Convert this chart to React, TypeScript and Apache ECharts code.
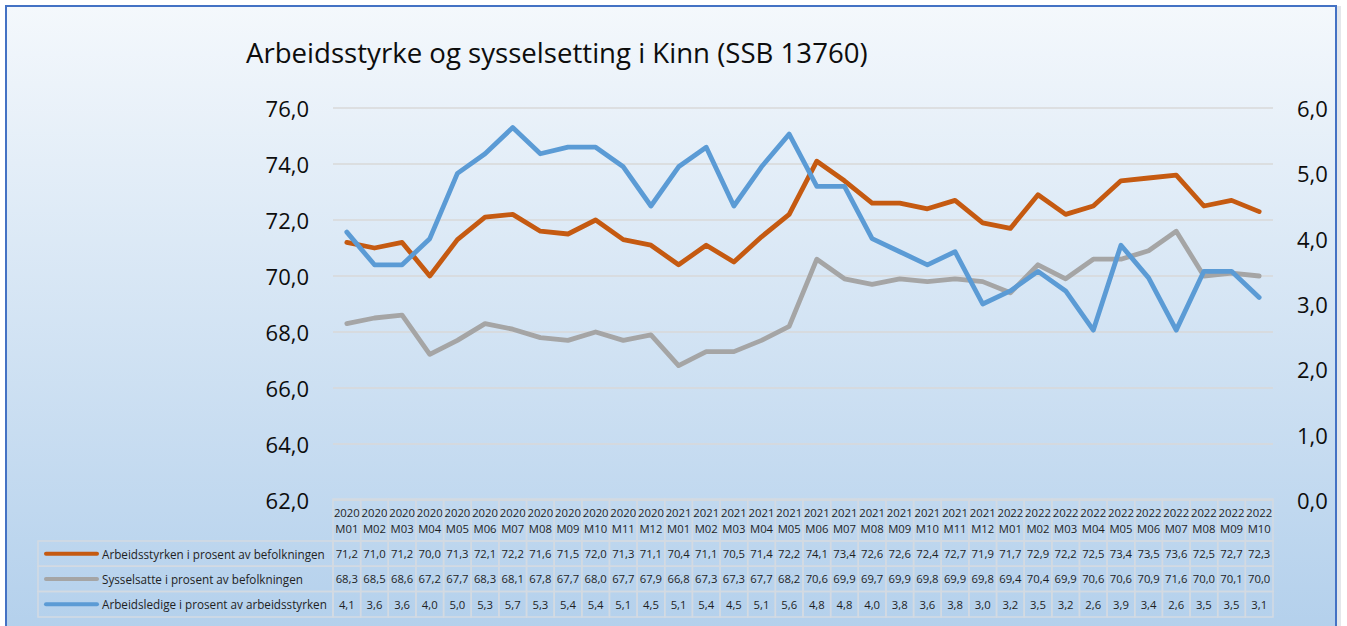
import React, { useEffect, useRef } from "react";
import * as echarts from "echarts";

const titleText = "Arbeidsstyrke og sysselsetting i Kinn (SSB 13760)";

const categories = [
  "2020\nM01", "2020\nM02", "2020\nM03", "2020\nM04", "2020\nM05", "2020\nM06",
  "2020\nM07", "2020\nM08", "2020\nM09", "2020\nM10", "2020\nM11", "2020\nM12",
  "2021\nM01", "2021\nM02", "2021\nM03", "2021\nM04", "2021\nM05", "2021\nM06",
  "2021\nM07", "2021\nM08", "2021\nM09", "2021\nM10", "2021\nM11", "2021\nM12",
  "2022\nM01", "2022\nM02", "2022\nM03", "2022\nM04", "2022\nM05", "2022\nM06",
  "2022\nM07", "2022\nM08", "2022\nM09", "2022\nM10",
];

const arbeidsstyrken = [
  71.2, 71.0, 71.2, 70.0, 71.3, 72.1, 72.2, 71.6, 71.5, 72.0, 71.3, 71.1,
  70.4, 71.1, 70.5, 71.4, 72.2, 74.1, 73.4, 72.6, 72.6, 72.4, 72.7, 71.9,
  71.7, 72.9, 72.2, 72.5, 73.4, 73.5, 73.6, 72.5, 72.7, 72.3,
];

const sysselsatte = [
  68.3, 68.5, 68.6, 67.2, 67.7, 68.3, 68.1, 67.8, 67.7, 68.0, 67.7, 67.9,
  66.8, 67.3, 67.3, 67.7, 68.2, 70.6, 69.9, 69.7, 69.9, 69.8, 69.9, 69.8,
  69.4, 70.4, 69.9, 70.6, 70.6, 70.9, 71.6, 70.0, 70.1, 70.0,
];

const arbeidsledige = [
  4.1, 3.6, 3.6, 4.0, 5.0, 5.3, 5.7, 5.3, 5.4, 5.4, 5.1, 4.5,
  5.1, 5.4, 4.5, 5.1, 5.6, 4.8, 4.8, 4.0, 3.8, 3.6, 3.8, 3.0,
  3.2, 3.5, 3.2, 2.6, 3.9, 3.4, 2.6, 3.5, 3.5, 3.1,
];

const seriesNames = [
  "Arbeidsstyrken i prosent av befolkningen",
  "Sysselsatte i prosent av befolkningen",
  "Arbeidsledige i prosent av arbeidsstyrken",
];
const seriesColors = ["#C55A11", "#A5A5A5", "#5B9BD5"];
const seriesValues = [arbeidsstyrken, sysselsatte, arbeidsledige];

const leftAxis = { min: 62, max: 76, interval: 2 };
const rightAxis = { min: 0, max: 6, interval: 1 };

const FONT = "'Open Sans', 'Liberation Sans', sans-serif";
const BORDER = "#D3DAE2";
const TEXT = "#1f1f1f";

const fmt = (v: number) => v.toFixed(1).replace(".", ",");

// table layout (pixels)
const HEADER_H = 42;
const ROW_H = 25.3;
const LEGEND_LEFT = 38;
const TABLE_FONT = 11.3;

export default function App() {
  const ref = useRef<HTMLDivElement>(null);

  useEffect(() => {
    if (!ref.current) return;
    const chart = echarts.init(ref.current, null, { renderer: "svg" });

    const gridLeft = 333;
    const gridRight = 74;
    const gridTop = 108;
    const gridBottom = 126;
    const tableTop = 626 - gridBottom - 1;

    const legendGraphics: any[] = [];
    seriesNames.forEach((name, k) => {
      const y = tableTop + HEADER_H + k * ROW_H;
      legendGraphics.push({
        type: "rect",
        silent: true,
        shape: { x: LEGEND_LEFT, y, width: gridLeft - LEGEND_LEFT, height: ROW_H },
        style: { fill: "none", stroke: BORDER, lineWidth: 1.5 },
      });
      legendGraphics.push({
        type: "line",
        silent: true,
        shape: { x1: 46, y1: y + ROW_H / 2, x2: 97, y2: y + ROW_H / 2 },
        style: { stroke: seriesColors[k], lineWidth: 4, lineCap: "round" },
      });
      legendGraphics.push({
        type: "text",
        silent: true,
        x: 102,
        y: y + ROW_H / 2,
        style: {
          text: name,
          fill: TEXT,
          fontSize: 11.7,
          fontFamily: FONT,
          verticalAlign: "middle",
          align: "left",
        },
      });
    });

    const option: any = {
      animation: false,
      title: {
        text: titleText,
        left: 241,
        top: 33,
        textStyle: { fontSize: 27.6, fontWeight: "normal", fontFamily: FONT, color: "#0d0d0d" },
      },
      graphic: [
        {
          type: "rect",
          z: -100,
          silent: true,
          shape: { x: 1337, y: 6, width: 4, height: 640 },
          style: { fill: "#E4E7EB" },
        },
        {
          type: "rect",
          z: -100,
          silent: true,
          shape: { x: 6, y: 6, width: 1330, height: 660 },
          style: {
            fill: new echarts.graphic.LinearGradient(0, 0, 0, 1, [
              { offset: 0, color: "#F4F8FC" },
              { offset: 1, color: "#B0CEEB" },
            ]),
            stroke: "#4472C4",
            lineWidth: 2,
          },
        },
        ...legendGraphics,
      ],
      grid: { left: gridLeft, right: gridRight, top: gridTop, bottom: gridBottom },
      xAxis: {
        type: "category",
        data: categories,
        boundaryGap: true,
        axisLine: { show: false },
        axisTick: { show: false },
        axisLabel: { show: false },
        splitLine: { show: false },
      },
      yAxis: [
        {
          type: "value",
          position: "left",
          min: leftAxis.min,
          max: leftAxis.max,
          interval: leftAxis.interval,
          axisLine: { show: false },
          axisTick: { show: false },
          axisLabel: {
            formatter: (v: number) => fmt(v),
            fontSize: 22,
            fontFamily: FONT,
            color: "#0d0d0d",
            margin: 24,
          },
          splitLine: { lineStyle: { color: "#D9D9D9", width: 1.5 } },
        },
        {
          type: "value",
          position: "right",
          min: rightAxis.min,
          max: rightAxis.max,
          interval: rightAxis.interval,
          axisLine: { show: false },
          axisTick: { show: false },
          axisLabel: {
            formatter: (v: number) => fmt(v),
            fontSize: 22,
            fontFamily: FONT,
            color: "#0d0d0d",
            margin: 24,
          },
          splitLine: { show: false },
        },
      ],
      series: [
        ...seriesNames.map((name, k) => ({
          name,
          type: "line",
          yAxisIndex: k === 2 ? 1 : 0,
          data: seriesValues[k],
          symbol: "none",
          smooth: false,
          lineStyle: { color: seriesColors[k], width: 4.8, cap: "round", join: "round" },
          itemStyle: { color: seriesColors[k] },
          z: 3 + k,
        })),
        {
          type: "custom",
          name: "table",
          silent: true,
          clip: false,
          xAxisIndex: 0,
          yAxisIndex: 0,
          data: categories.map((_, i) => [i, leftAxis.min]),
          encode: { x: 0, y: 1 },
          renderItem: (params: any, api: any) => {
            const i = api.value(0);
            const cx = api.coord([i, leftAxis.min])[0];
            const w = api.size([1, 0])[0];
            const left = cx - w / 2;
            const top = params.coordSys.y + params.coordSys.height - 1;
            const children: any[] = [
              {
                type: "rect",
                shape: { x: left, y: top, width: w, height: HEADER_H },
                style: { fill: "none", stroke: BORDER, lineWidth: 1.5 },
              },
              {
                type: "text",
                style: {
                  text: categories[i],
                  x: cx,
                  y: top + HEADER_H / 2,
                  align: "center",
                  verticalAlign: "middle",
                  fontSize: TABLE_FONT,
                  lineHeight: 16,
                  fontFamily: FONT,
                  fill: TEXT,
                },
              },
            ];
            seriesValues.forEach((vals, k) => {
              const y = top + HEADER_H + k * ROW_H;
              children.push({
                type: "rect",
                shape: { x: left, y, width: w, height: ROW_H },
                style: { fill: "none", stroke: BORDER, lineWidth: 1.5 },
              });
              children.push({
                type: "text",
                style: {
                  text: fmt(vals[i]),
                  x: cx,
                  y: y + ROW_H / 2,
                  align: "center",
                  verticalAlign: "middle",
                  fontSize: TABLE_FONT,
                  fontFamily: FONT,
                  fill: TEXT,
                },
              });
            });
            return { type: "group", children };
          },
        },
      ],
    };

    chart.setOption(option);
    return () => chart.dispose();
  }, []);

  return (
    <div
      ref={ref}
      style={{ position: "fixed", left: 0, top: 0, width: 1347, height: 626, background: "#ffffff" }}
    />
  );
}
